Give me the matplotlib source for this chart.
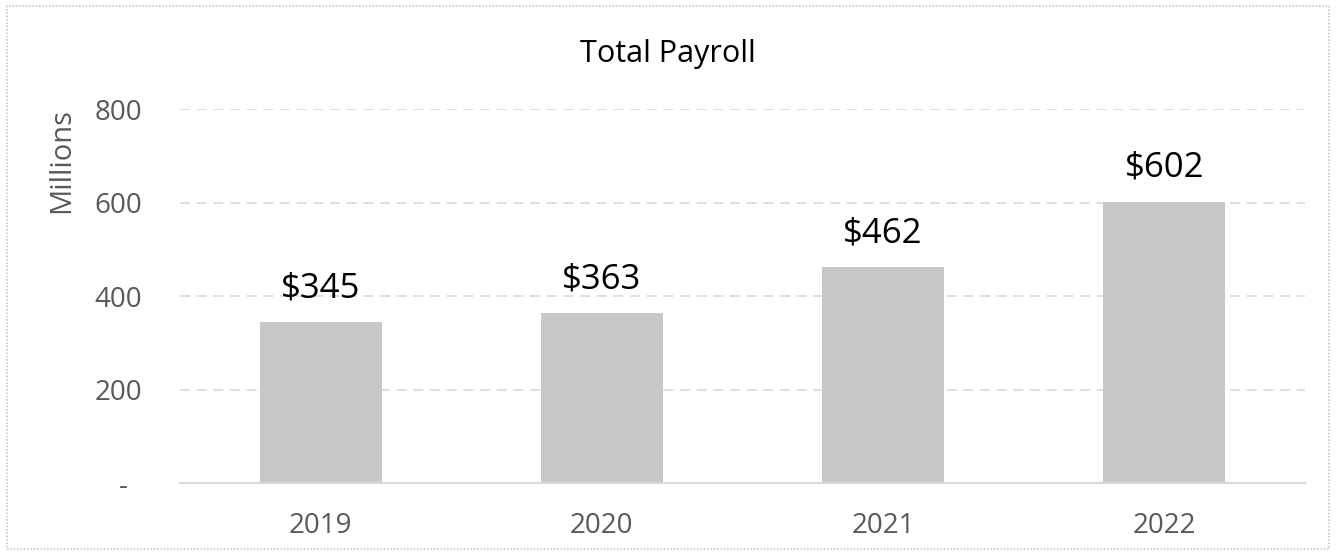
import matplotlib.pyplot as plt
from matplotlib.patches import Rectangle

years = ["2019", "2020", "2021", "2022"]
payroll = [345, 363, 462, 602]
yticks = [0, 200, 400, 600, 800]
ytick_labels = ["-  ", "200", "400", "600", "800"]

plt.rcParams["font.family"] = ["Open Sans", "DejaVu Sans"]

fig = plt.figure(figsize=(13.36, 5.55), dpi=100)
ax = fig.add_axes([0.1347, 0.1297, 0.8421, 0.6739])

# dashed gridlines behind the bars
for v in yticks[1:]:
    ax.axhline(v, color="#d9d9d9", linestyle=(0, (6, 4)), linewidth=1.2, zorder=0)

x = range(len(years))
ax.bar(x, payroll, width=0.434, color="#c8c8c8", zorder=2)

for xi, v in zip(x, payroll):
    ax.annotate(f"${v}", (xi, v), xytext=(0, 12), textcoords="offset points",
                ha="center", va="bottom", fontsize=25, color="black")

ax.set_xlim(-0.5, 3.5)
ax.set_ylim(0, 800)
ax.set_xticks(list(x))
ax.set_xticklabels(years, fontsize=20, color="#595959")
ax.set_yticks(yticks)
ax.set_yticklabels(ytick_labels, fontsize=20, color="#595959")
ax.tick_params(axis="y", length=0, pad=27)
ax.tick_params(axis="x", length=0, pad=21)

for side in ["top", "right", "left"]:
    ax.spines[side].set_visible(False)
ax.spines["bottom"].set_color("#d9d9d9")
ax.spines["bottom"].set_linewidth(1.5)

# axis title sits at the top of the value axis, Excel style
fig.text(0.046, 0.71, "Millions", rotation=90, ha="center", va="center",
         fontsize=21, color="#595959")

fig.text(0.5, 0.903, "Total Payroll", ha="center", va="center", fontsize=22, color="black")

# dotted frame around the chart
fig.patches.append(Rectangle((0.005, 0.01), 0.99, 0.98, transform=fig.transFigure,
                             fill=False, edgecolor="#c8c8c8", linestyle=(0, (1, 1)),
                             linewidth=1.2))

fig.savefig("out.png", dpi=100)
